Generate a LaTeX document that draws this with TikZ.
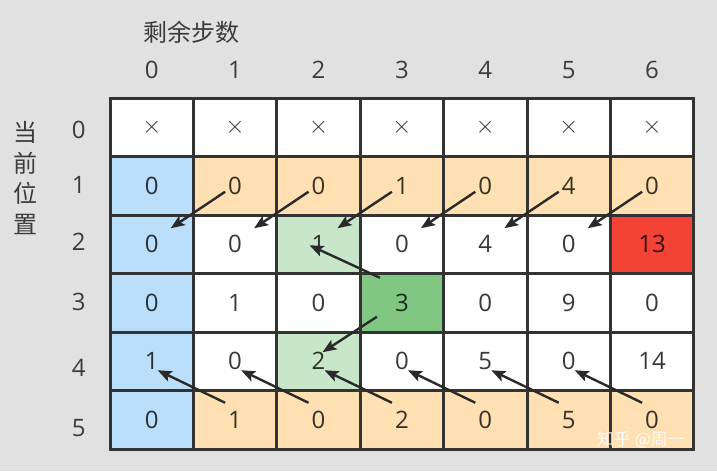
\documentclass[tikz,border=0pt]{standalone}
\usepackage{fontspec}
\setmainfont{Open Sans}
\newfontfamily\cjk{Noto Sans CJK SC}
\usetikzlibrary{arrows.meta, calc}

\definecolor{bg}{HTML}{E1E1E1}
\definecolor{gridline}{HTML}{333333}
\definecolor{labelcol}{HTML}{3C3C3C}
\definecolor{arrowcol}{HTML}{2A2A2A}
\definecolor{cellblue}{HTML}{BBDEFB}
\definecolor{cellorange}{HTML}{FFE0B2}
\definecolor{lightgreen}{HTML}{C8E6C9}
\definecolor{darkgreen}{HTML}{81C784}
\definecolor{cellred}{HTML}{F44336}

\newcommand{\numfont}{\fontsize{24}{28}\selectfont}
\newcommand{\hanfont}{\cjk\fontsize{24}{30.5}\selectfont}

\tikzset{
    my-cell/.style={
        draw=gridline, line width=3pt, fill=white, shape=rectangle,
        minimum width=83.4pt, minimum height=58.5pt, inner sep=0pt,
        font=\numfont, text=black, text opacity=.78
    },
    my-blue/.style={
        my-cell, fill=cellblue
    },
    my-orange/.style={
        my-cell, fill=cellorange
    },
    my-lightgreen/.style={
        my-cell, fill=lightgreen
    },
    my-darkgreen/.style={
        my-cell, fill=darkgreen
    },
    my-red/.style={
        my-cell, fill=cellred
    },
    my-label/.style={
        font=\numfont, text=labelcol, inner sep=0pt
    },
    my-arrow/.style={
        draw=arrowcol, line width=2.4pt, -{Stealth[length=14pt, width=11pt, inset=3pt]}
    },
}

\begin{document}
\begin{tikzpicture}[x=1pt, y=-1pt]

        % BACKGROUND ----------------------------------------------------------------------------------
        \fill[bg] (0, 0) rectangle (717, 471);
        \useasboundingbox (0, 0) rectangle (717, 471);

        % TABLE ---------------------------------------------------------------------------------------

        % ROW 0
        \node[my-cell]       (R0C0) at (151.7, 127.25) {$\times$};
        \node[my-cell]       (R0C1) at (235.1, 127.25) {$\times$};
        \node[my-cell]       (R0C2) at (318.5, 127.25) {$\times$};
        \node[my-cell]       (R0C3) at (401.9, 127.25) {$\times$};
        \node[my-cell]       (R0C4) at (485.3, 127.25) {$\times$};
        \node[my-cell]       (R0C5) at (568.7, 127.25) {$\times$};
        \node[my-cell]       (R0C6) at (652.1, 127.25) {$\times$};

        % ROW 1
        \node[my-blue]       (R1C0) at (151.7, 185.75) {0};
        \node[my-orange]     (R1C1) at (235.1, 185.75) {0};
        \node[my-orange]     (R1C2) at (318.5, 185.75) {0};
        \node[my-orange]     (R1C3) at (401.9, 185.75) {1};
        \node[my-orange]     (R1C4) at (485.3, 185.75) {0};
        \node[my-orange]     (R1C5) at (568.7, 185.75) {4};
        \node[my-orange]     (R1C6) at (652.1, 185.75) {0};

        % ROW 2
        \node[my-blue]       (R2C0) at (151.7, 244.25) {0};
        \node[my-cell]       (R2C1) at (235.1, 244.25) {0};
        \node[my-lightgreen] (R2C2) at (318.5, 244.25) {1};
        \node[my-cell]       (R2C3) at (401.9, 244.25) {0};
        \node[my-cell]       (R2C4) at (485.3, 244.25) {4};
        \node[my-cell]       (R2C5) at (568.7, 244.25) {0};
        \node[my-red]        (R2C6) at (652.1, 244.25) {13};

        % ROW 3
        \node[my-blue]       (R3C0) at (151.7, 302.75) {0};
        \node[my-cell]       (R3C1) at (235.1, 302.75) {1};
        \node[my-cell]       (R3C2) at (318.5, 302.75) {0};
        \node[my-darkgreen]  (R3C3) at (401.9, 302.75) {3};
        \node[my-cell]       (R3C4) at (485.3, 302.75) {0};
        \node[my-cell]       (R3C5) at (568.7, 302.75) {9};
        \node[my-cell]       (R3C6) at (652.1, 302.75) {0};

        % ROW 4
        \node[my-blue]       (R4C0) at (151.7, 361.25) {1};
        \node[my-cell]       (R4C1) at (235.1, 361.25) {0};
        \node[my-lightgreen] (R4C2) at (318.5, 361.25) {2};
        \node[my-cell]       (R4C3) at (401.9, 361.25) {0};
        \node[my-cell]       (R4C4) at (485.3, 361.25) {5};
        \node[my-cell]       (R4C5) at (568.7, 361.25) {0};
        \node[my-cell]       (R4C6) at (652.1, 361.25) {14};

        % ROW 5
        \node[my-blue]       (R5C0) at (151.7, 419.75) {0};
        \node[my-orange]     (R5C1) at (235.1, 419.75) {1};
        \node[my-orange]     (R5C2) at (318.5, 419.75) {0};
        \node[my-orange]     (R5C3) at (401.9, 419.75) {2};
        \node[my-orange]     (R5C4) at (485.3, 419.75) {0};
        \node[my-orange]     (R5C5) at (568.7, 419.75) {5};
        \node[my-orange]     (R5C6) at (652.1, 419.75) {0};

        % HEADERS -------------------------------------------------------------------------------------

        % COLUMNS - REMAINING STEPS
        \node[my-label] (COL0) at ($(R0C0) + (0, -57)$) {0};
        \node[my-label] (COL1) at ($(R0C1) + (0, -57)$) {1};
        \node[my-label] (COL2) at ($(R0C2) + (0, -57)$) {2};
        \node[my-label] (COL3) at ($(R0C3) + (0, -57)$) {3};
        \node[my-label] (COL4) at ($(R0C4) + (0, -57)$) {4};
        \node[my-label] (COL5) at ($(R0C5) + (0, -57)$) {5};
        \node[my-label] (COL6) at ($(R0C6) + (0, -57)$) {6};
        \node[my-label, font=\hanfont] (STEPS) at ($(COL0) + (40, -38)$) {剩余步数};

        % ROWS - CURRENT POSITION
        \node[my-label] (ROW0) at ($(R0C0) + (-73, 3)$)  {0};
        \node[my-label] (ROW1) at ($(R1C0) + (-73, -1)$) {1};
        \node[my-label] (ROW2) at ($(R2C0) + (-73, -2)$) {2};
        \node[my-label] (ROW3) at ($(R3C0) + (-73, -1)$) {3};
        \node[my-label] (ROW4) at ($(R4C0) + (-73, 7)$)  {4};
        \node[my-label] (ROW5) at ($(R5C0) + (-73, 8)$)  {5};
        \node[my-label, font=\hanfont, align=center] (POS) at (25, 178) {当\\前\\位\\置};

        % ARROWS --------------------------------------------------------------------------------------

        % ROW 1 -> ROW 2
        \draw[my-arrow] ($(R1C1) + (-10, 6)$) -- ($(R2C0) + (19, -16)$);
        \draw[my-arrow] ($(R1C2) + (-10, 6)$) -- ($(R2C1) + (19, -16)$);
        \draw[my-arrow] ($(R1C3) + (-10, 6)$) -- ($(R2C2) + (19, -16)$);
        \draw[my-arrow] ($(R1C4) + (-10, 6)$) -- ($(R2C3) + (19, -16)$);
        \draw[my-arrow] ($(R1C5) + (-10, 6)$) -- ($(R2C4) + (19, -16)$);
        \draw[my-arrow] ($(R1C6) + (-10, 6)$) -- ($(R2C5) + (19, -16)$);

        % ROW 5 -> ROW 4
        \draw[my-arrow] ($(R5C1) + (-10, -17)$) -- ($(R4C0) + (6, 9)$);
        \draw[my-arrow] ($(R5C2) + (-10, -17)$) -- ($(R4C1) + (6, 9)$);
        \draw[my-arrow] ($(R5C3) + (-10, -17)$) -- ($(R4C2) + (6, 9)$);
        \draw[my-arrow] ($(R5C4) + (-10, -17)$) -- ($(R4C3) + (6, 9)$);
        \draw[my-arrow] ($(R5C5) + (-10, -17)$) -- ($(R4C4) + (6, 9)$);
        \draw[my-arrow] ($(R5C6) + (-10, -17)$) -- ($(R4C5) + (6, 9)$);

        % GREEN PATH
        \draw[my-arrow] ($(R3C3) + (-22, -25)$) -- ($(R2C2) + (-9, 1)$);
        \draw[my-arrow] ($(R3C3) + (-25, 14)$)  -- ($(R4C2) + (4, -9)$);

        % WATERMARK
        \node[text=white, text opacity=.85, font=\cjk\fontsize{17}{20}\selectfont, inner sep=0pt] (MARK) at (641, 440) {知乎 @周一};

    \end{tikzpicture}
\end{document}
